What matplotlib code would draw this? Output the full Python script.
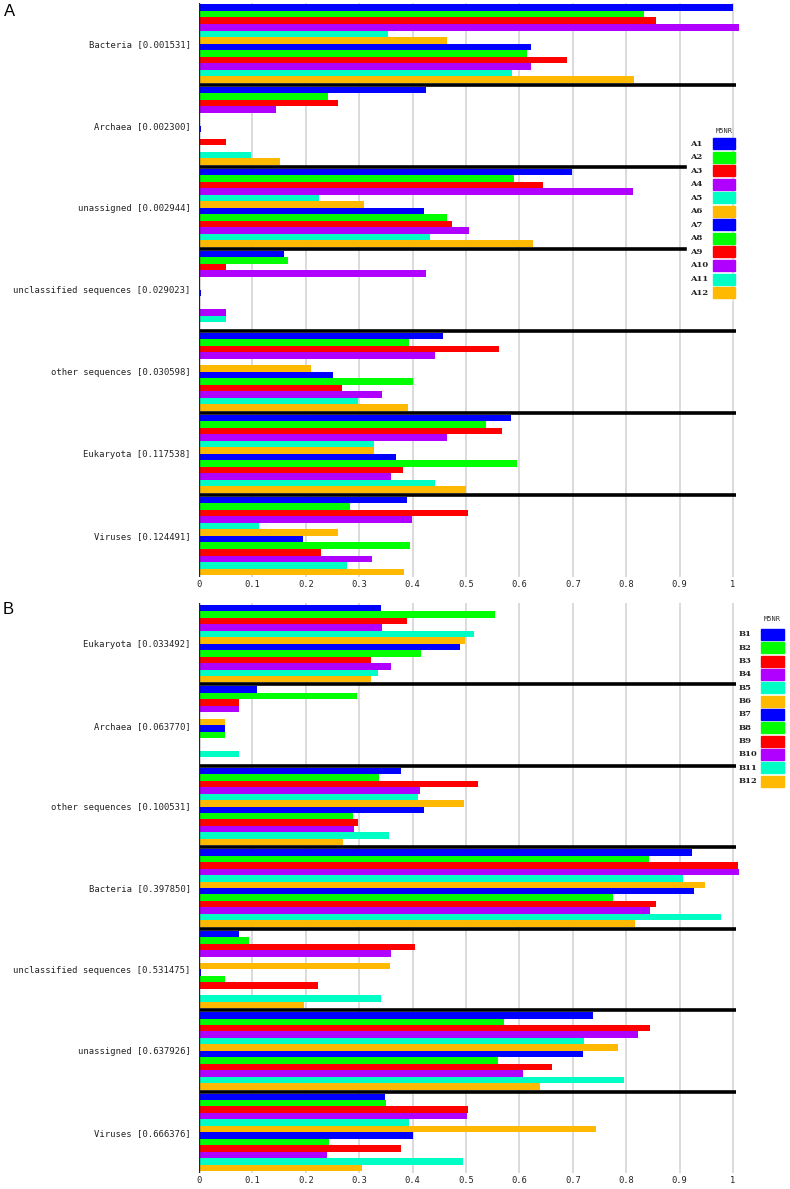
import numpy as np
import matplotlib
matplotlib.use("Agg")
import matplotlib.pyplot as plt
from matplotlib.patches import Rectangle

W, H = 790, 1189

# sample colours repeat: 1-6 and 7-12 share the same palette
colors = ["#0000ff", "#00ff00", "#ff0000", "#b000ff", "#00ffc4", "#ffb900"] * 2

# === Panel A data (12 samples per category) ===
samples_a = ["A1", "A2", "A3", "A4", "A5", "A6", "A7", "A8", "A9", "A10", "A11", "A12"]
labels_a = ["Bacteria [0.001531]", "Archaea [0.002300]", "unassigned [0.002944]",
            "unclassified sequences [0.029023]", "other sequences [0.030598]",
            "Eukaryota [0.117538]", "Viruses [0.124491]"]
a_bacteria = [1.0, 0.833, 0.855, 1.011, 0.354, 0.464, 0.621, 0.614, 0.689, 0.621, 0.587, 0.814]
a_archaea = [0.425, 0.242, 0.260, 0.145, 0.002, 0.002, 0.003, 0.002, 0.050, 0.002, 0.097, 0.152]
a_unassigned = [0.699, 0.589, 0.644, 0.812, 0.224, 0.309, 0.421, 0.464, 0.473, 0.506, 0.433, 0.626]
a_unclassified = [0.160, 0.166, 0.050, 0.426, 0.002, 0.002, 0.003, 0.002, 0.002, 0.050, 0.050, 0.002]
a_other = [0.456, 0.394, 0.562, 0.442, 0.002, 0.210, 0.250, 0.400, 0.267, 0.343, 0.297, 0.392]
a_eukaryota = [0.585, 0.538, 0.568, 0.464, 0.328, 0.328, 0.369, 0.595, 0.382, 0.360, 0.442, 0.500]
a_viruses = [0.390, 0.283, 0.504, 0.399, 0.113, 0.260, 0.195, 0.395, 0.229, 0.324, 0.277, 0.383]

# === Panel B data ===
samples_b = ["B1", "B2", "B3", "B4", "B5", "B6", "B7", "B8", "B9", "B10", "B11", "B12"]
labels_b = ["Eukaryota [0.033492]", "Archaea [0.063770]", "other sequences [0.100531]",
            "Bacteria [0.397850]", "unclassified sequences [0.531475]",
            "unassigned [0.637926]", "Viruses [0.666376]"]
b_eukaryota = [0.341, 0.555, 0.389, 0.343, 0.515, 0.499, 0.488, 0.416, 0.322, 0.360, 0.336, 0.322]
b_archaea = [0.109, 0.296, 0.075, 0.075, 0.002, 0.048, 0.048, 0.048, 0.002, 0.002, 0.075, 0.002]
b_other = [0.379, 0.337, 0.523, 0.414, 0.411, 0.497, 0.422, 0.289, 0.298, 0.291, 0.355, 0.270]
b_bacteria = [0.923, 0.842, 1.009, 1.011, 0.907, 0.947, 0.927, 0.776, 0.855, 0.844, 0.977, 0.816]
b_unclassified = [0.075, 0.093, 0.404, 0.360, 0.002, 0.358, 0.003, 0.048, 0.223, 0.002, 0.341, 0.197]
b_unassigned = [0.738, 0.571, 0.844, 0.823, 0.721, 0.785, 0.719, 0.559, 0.661, 0.606, 0.796, 0.639]
b_viruses = [0.348, 0.350, 0.504, 0.502, 0.394, 0.743, 0.401, 0.244, 0.379, 0.240, 0.494, 0.306]

groups_a = [a_bacteria, a_archaea, a_unassigned, a_unclassified, a_other, a_eukaryota, a_viruses]
groups_b = [b_eukaryota, b_archaea, b_other, b_bacteria, b_unclassified, b_unassigned, b_viruses]

MONO = "DejaVu Sans Mono"
S = 12.6  # height of one category block in bar units


def draw_panel(ax, labels, groups):
    centers = []
    for g, vals in enumerate(groups):
        y = [g * S + 0.3 + i + 0.5 for i in range(len(vals))]
        ax.barh(y, vals, height=1.0, color=colors, linewidth=0, zorder=2)
        centers.append(g * S + S / 2)
    # black separators between categories
    ax.hlines([g * S for g in range(1, len(groups))], -0.004, 1.005,
              color="black", lw=2.6, zorder=3)
    ax.axvline(0, color="#222222", lw=1.0, zorder=4)

    ax.set_yticks(centers, labels)
    ticks = np.round(np.arange(0, 1.01, 0.1), 1)
    ax.set_xticks(ticks, ["0" if t == 0 else ("1" if t == 1 else f"{t:.1f}") for t in ticks])
    ax.grid(axis="x", color="#d4d4d4", lw=1.2, zorder=0)
    ax.set_axisbelow(True)
    ax.tick_params(axis="y", length=0, pad=6, labelsize=6.4, labelcolor="#222222")
    ax.tick_params(axis="x", length=0, pad=2, labelsize=6.3, labelcolor="#222222")
    for lab in ax.get_xticklabels() + ax.get_yticklabels():
        lab.set_fontfamily(MONO)
    ax.set_xlim(0, 1.05)
    ax.set_ylim(len(groups) * S, 0)
    for sp in ax.spines.values():
        sp.set_visible(False)


fig = plt.figure(figsize=(W / 100, H / 100), dpi=100)


def axes_px(left, top, right, bottom):
    return fig.add_axes([left / W, 1 - bottom / H, (right - left) / W, (bottom - top) / H])


x_right = 199 + 1.05 * 534
ax_a = axes_px(199, 2.5, x_right, 577)
draw_panel(ax_a, labels_a, groups_a)
ax_b = axes_px(199, 603, x_right, 1173)
draw_panel(ax_b, labels_b, groups_b)

fig.text(9.5 / W, 1 - 11 / H, "A", fontsize=12, ha="center", va="center", family="Liberation Sans")
fig.text(8.5 / W, 1 - 609 / H, "B", fontsize=12, ha="center", va="center", family="Liberation Sans")

# === Legends drawn in pixel coordinates on an overlay ===
ov = fig.add_axes([0, 0, 1, 1], zorder=10)
ov.set_xlim(0, W)
ov.set_ylim(H, 0)
ov.axis("off")
ov.patch.set_alpha(0)


def legend(names, x_lab, x_box, w_box, y_title, y0, step, bg=None):
    if bg is not None:
        ov.add_patch(Rectangle((bg[0], bg[1]), bg[2], bg[3], color="white", zorder=1))
    ov.text(x_box + w_box / 2, y_title, "M5NR", fontsize=5, ha="center", va="center",
            family=MONO, color="#333333", zorder=3)
    for i, name in enumerate(names):
        y = y0 + i * step
        ov.add_patch(Rectangle((x_box, y - 5.5), w_box, 11, color=colors[i], zorder=2))
        ov.text(x_lab, y, name, fontsize=6, ha="left", va="center", family="DejaVu Serif",
                weight="bold", color="#222222", zorder=3)


legend(samples_a, 690, 713, 22, 131, 143.5, 13.55, bg=(687, 124, 45, 176))
ov.vlines(733, 124, 300, color="#d4d4d4", lw=1.2, zorder=1.5)
legend(samples_b, 739, 761, 22.5, 619, 634.3, 13.35)

fig.savefig("out.png", dpi=100)
